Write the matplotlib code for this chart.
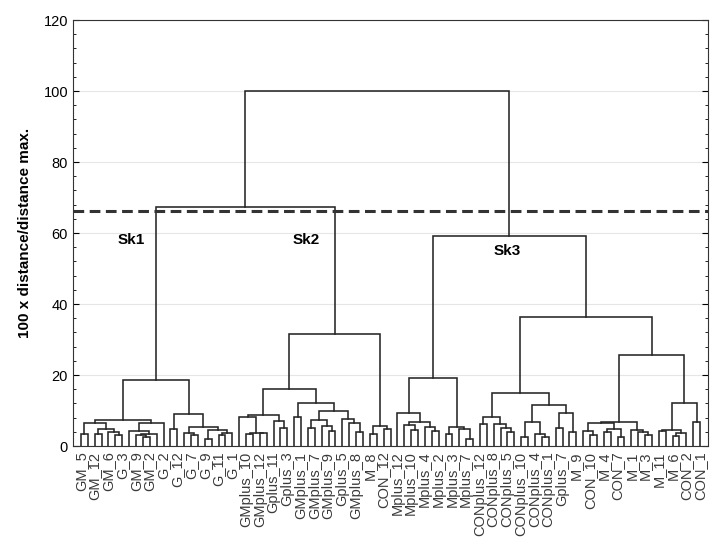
import numpy as np
import matplotlib
matplotlib.use("Agg")
import matplotlib.pyplot as plt
from matplotlib.ticker import MultipleLocator

plt.rcParams['font.family'] = ['Liberation Sans', 'DejaVu Sans']

# leaf labels (every second leaf is labelled, as in the original)
leaf_labels = ["GM_5", "GM_12", "GM_6", "G_3", "GM_9", "GM_2", "G_2", "G_12",
               "G_7", "G_9", "G_11", "G_1", "GMplus_10", "GMplus_12", "Gplus_11",
               "Gplus_3", "GMplus_1", "GMplus_7", "GMplus_9", "Gplus_5", "GMplus_8",
               "M_8", "CON_12", "Mplus_12", "Mplus_10", "Mplus_4", "Mplus_2",
               "Mplus_3", "Mplus_7", "CONplus_12", "CONplus_8", "CONplus_5",
               "CONplus_10", "CONplus_4", "CONplus_1", "Gplus_7", "M_9", "CON_10",
               "M_4", "CON_7", "M_1", "M_3", "M_11", "M_6", "CON_2", "CON_1"]
n_leaves = 91

# tree: [left, right, linkage height]; ints are leaf positions
sk1_left = [[[0, 1, 3.3], [[2, 3, 3.5], [4, [5, 6, 3.0], 4.0], 4.8], 6.4],
            [[7, [[8, [9, 10, 2.6], 3.0], 11, 3.4], 4.1], 12, 6.6], 7.3]
sk1_right = [[13, 14, 4.8],
             [[15, [16, 17, 3.2], 3.8], [[18, 19, 2.0], [[20, 21, 3.2], 22, 3.8], 4.5], 5.4], 9.0]
sk1 = [sk1_left, sk1_right, 18.6]

sk2_a = [[23, [[24, 25, 3.3], [26, 27, 3.6], 3.8], 8.3], [28, [29, 30, 5.2], 7.0], 8.8]
sk2_b = [[31, 32, 8.3],
         [[[33, 34, 5.0], [35, [36, 37, 4.1], 5.5], 7.3], [38, [39, [40, 41, 4.0], 6.6], 7.5], 10.0], 12.2]
sk2_right = [[42, 43, 3.3], [44, 45, 4.7], 5.7]
sk2 = [[sk2_a, sk2_b, 16.0], sk2_right, 31.5]

sk3_left = [[46, [[47, [48, 49, 4.5], 6.0], [50, [51, 52, 4.3], 5.4], 6.9], 9.2],
            [[53, 54, 3.3], [55, [56, 57, 2.0], 4.7], 5.3], 19.2]
sk3_rl = [[[58, 59, 6.3], [60, [61, [62, 63, 4.0], 5.0], 6.1], 8.3],
          [[[64, 65, 2.6], [66, [67, 68, 2.6], 3.3], 6.9], [[69, 70, 5.0], [71, 72, 4.0], 9.2], 11.6], 14.8]
sk3_rr = [[[[73, [74, 75, 3.1], 4.3], [[76, 77, 4.0], [78, 79, 2.6], 4.7], 6.6],
           [80, [81, [82, 83, 3.2], 3.9], 4.5], 6.8],
          [[[84, 85, 4.2], [[86, 87, 2.9], 88, 3.8], 4.5], [89, 90, 6.9], 12.2], 25.6]
sk3 = [sk3_left, [sk3_rl, sk3_rr, 36.3], 59.2]

tree = [[sk1, sk2, 67.3], sk3, 100.0]

cut_level = 66.2
group_names = ["Sk1", "Sk2", "Sk3"]
group_pos = [(7.3, 58.0), (32.7, 58.0), (62.0, 55.0)]

line_col = "#262626"

fig = plt.figure(figsize=(7.24, 5.48), dpi=100)
ax = fig.add_axes([0.1008, 0.1861, 0.8772, 0.7774])


def draw(node):
    if isinstance(node, int):
        return float(node), 0.0
    left, right, h = node
    xl, yl = draw(left)
    xr, yr = draw(right)
    ax.plot([xl, xl, xr, xr], [yl, h, h, yr], color=line_col, lw=1.15,
            solid_joinstyle='miter', zorder=3)
    return (xl + xr) / 2.0, h


draw(tree)

ax.axhline(cut_level, color="#333333", lw=2.2, ls=(0, (3.5, 1.8)), zorder=4)

for name, (gx, gy) in zip(group_names, group_pos):
    ax.text(gx, gy, name, fontsize=11, fontweight='bold', ha='center', va='center')

ax.set_xlim(-1.16, n_leaves - 1 + 1.16)
ax.set_ylim(0, 120)
ax.set_xticks(np.arange(0, n_leaves, 2))
ax.set_xticklabels(leaf_labels, rotation=90, fontsize=10.5, color="#3a3a3a")
ax.tick_params(axis='x', length=0, pad=4)
ax.yaxis.set_major_locator(MultipleLocator(20))
ax.yaxis.set_minor_locator(MultipleLocator(4))
ax.tick_params(axis='y', which='both', direction='in', right=True, labelsize=10.5)
ax.tick_params(axis='y', which='major', length=4)
ax.tick_params(axis='y', which='minor', length=2)
ax.grid(axis='y', which='major', color="#e6e6e6", lw=0.8, zorder=0)
ax.set_axisbelow(True)
ax.set_ylabel("100 x distance/distance max.", fontsize=11, fontweight='bold', labelpad=8)
for sp in ax.spines.values():
    sp.set_color("#333333")

fig.savefig("out.png", dpi=100)
